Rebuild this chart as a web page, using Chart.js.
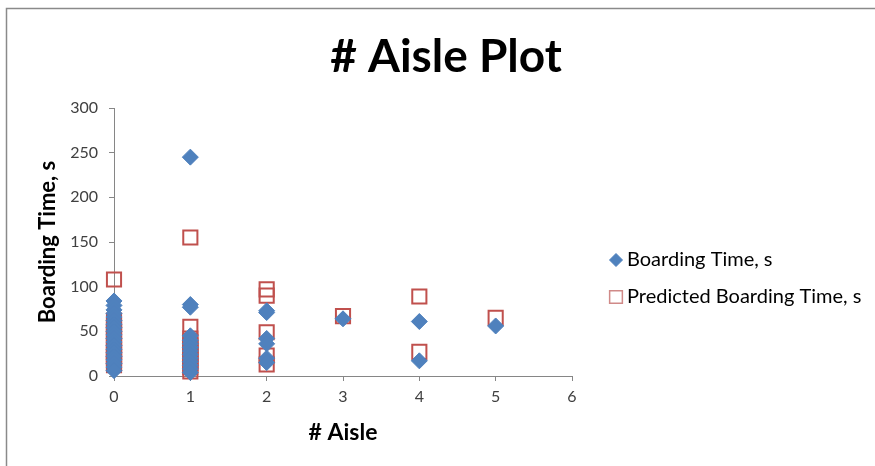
<!DOCTYPE html>
<html>
<head>
<meta charset="utf-8">
<title># Aisle Plot</title>
<script src="https://cdn.jsdelivr.net/npm/chart.js@4.4.1/dist/chart.umd.min.js"></script>
<style>
  html, body { margin: 0; padding: 0; background: #fff; }
</style>
</head>
<body>
<canvas id="aislePlot" width="875" height="466"></canvas>
<script>
// number of aisles per trial and the measured boarding time (s)
const boardingAisle = [
  0, 0, 0, 0, 0, 0, 0, 0, 0, 0, 0, 0, 0, 0, 0, 0, 0, 0, 0, 0,
  1, 1, 1, 1, 1, 1, 1, 1, 1, 1, 1, 1, 1, 1,
  2, 2, 2, 2, 2, 2,
  3,
  4, 4,
  5
];
const boardingTime = [
  84, 79, 74, 70, 66, 62, 58, 54, 50, 46, 42, 38, 34, 30, 26, 22, 18, 14, 10, 6,
  245, 80, 77, 45, 40, 36, 32, 28, 24, 20, 16, 12, 8, 4,
  73, 71, 42, 36, 20, 15,
  64,
  61, 17,
  56
];

// model prediction for the same runs
const predictedAisle = [
  0, 0, 0, 0, 0, 0, 0, 0, 0, 0, 0, 0, 0, 0, 0, 0,
  1, 1, 1, 1, 1, 1, 1, 1, 1, 1, 1, 1,
  2, 2, 2, 2, 2,
  3,
  4, 4,
  5
];
const predictedTime = [
  108, 62, 58, 54, 50, 46, 42, 38, 34, 30, 27, 24, 21, 18, 15, 12,
  155, 55, 42, 38, 34, 30, 26, 22, 18, 14, 10, 5,
  97, 90, 49, 23, 13,
  67,
  89, 27,
  65
];

const xTicks = [0, 1, 2, 3, 4, 5, 6];
const yTicks = [0, 50, 100, 150, 200, 250, 300];
const seriesNames = ['Boarding Time, s', 'Predicted Boarding Time, s'];

const BLUE = '#4F81BD';
const RED = '#C0504D';
const AXIS = '#868686';
const FONT = 'Lato, "Open Sans", sans-serif';

function toPoints(xs, ys) {
  return xs.map((x, i) => ({ x: x, y: ys[i] }));
}

// outer frame, title and the legend on the right
const frameAndLabels = {
  id: 'frameAndLabels',
  beforeDraw(chart) {
    const ctx = chart.ctx;
    ctx.save();
    ctx.fillStyle = '#fff';
    ctx.fillRect(0, 0, chart.width, chart.height);
    ctx.strokeStyle = '#8a8a8a';
    ctx.lineWidth = 1.5;
    ctx.strokeRect(6.5, 8.5, chart.width + 20, chart.height + 20);
    ctx.restore();
  },
  afterDraw(chart) {
    const ctx = chart.ctx;
    ctx.save();
    ctx.fillStyle = '#000';
    ctx.textAlign = 'center';
    ctx.textBaseline = 'middle';
    ctx.font = 'bold 46px ' + FONT;
    ctx.fillText('# Aisle Plot', 446, 57);

    ctx.textAlign = 'left';
    ctx.font = '20px ' + FONT;
    const rows = [
      { y: 260, style: 'rectRot', r: 6.5, fill: BLUE, stroke: BLUE, w: 1 },
      { y: 297, style: 'rect', r: 9, fill: 'rgba(0,0,0,0)', stroke: '#D08A88', w: 1.5 }
    ];
    rows.forEach((row, i) => {
      ctx.fillStyle = row.fill;
      ctx.strokeStyle = row.stroke;
      ctx.lineWidth = row.w;
      Chart.helpers.drawPoint(ctx, { pointStyle: row.style, radius: row.r, rotation: 0, borderWidth: row.w }, 616, row.y);
      ctx.fillStyle = '#000';
      ctx.fillText(seriesNames[i], 627, row.y);
    });
    ctx.restore();
  }
};

new Chart(document.getElementById('aislePlot'), {
  type: 'scatter',
  data: {
    datasets: [
      {
        label: seriesNames[0],
        data: toPoints(boardingAisle, boardingTime),
        pointStyle: 'rectRot',
        pointRadius: 8,
        backgroundColor: BLUE,
        borderColor: BLUE,
        borderWidth: 1,
        clip: false
      },
      {
        label: seriesNames[1],
        data: toPoints(predictedAisle, predictedTime),
        pointStyle: 'rect',
        pointRadius: 10,
        backgroundColor: 'rgba(0,0,0,0)',
        borderColor: RED,
        borderWidth: 2,
        clip: false
      }
    ]
  },
  options: {
    responsive: false,
    animation: false,
    layout: { padding: { left: 6, right: 303, top: 108, bottom: 0 } },
    plugins: {
      legend: { display: false },
      tooltip: { enabled: false }
    },
    scales: {
      x: {
        type: 'linear',
        min: xTicks[0],
        max: xTicks[xTicks.length - 1],
        afterBuildTicks(scale) { scale.ticks = xTicks.map(v => ({ value: v })); },
        afterFit(scale) { scale.height = 90; },
        grid: { drawOnChartArea: false, drawTicks: true, tickLength: 5, color: AXIS },
        border: { color: AXIS, width: 1 },
        ticks: { color: '#404040', font: { family: FONT, size: 16 }, padding: 6 },
        title: {
          display: true,
          text: '# Aisle',
          color: '#000',
          font: { family: FONT, size: 23, weight: 'bold' },
          padding: { bottom: 20 }
        }
      },
      y: {
        type: 'linear',
        min: yTicks[0],
        max: yTicks[yTicks.length - 1],
        afterBuildTicks(scale) { scale.ticks = yTicks.map(v => ({ value: v })); },
        afterFit(scale) { scale.width = 108; },
        grid: { drawOnChartArea: false, drawTicks: true, tickLength: 5, color: AXIS },
        border: { color: AXIS, width: 1 },
        ticks: { color: '#404040', font: { family: FONT, size: 16 }, padding: 11 },
        title: {
          display: true,
          text: 'Boarding Time, s',
          color: '#000',
          font: { family: FONT, size: 22, weight: 'bold' },
          padding: { top: 29 }
        }
      }
    }
  },
  plugins: [frameAndLabels]
});
</script>
</body>
</html>
